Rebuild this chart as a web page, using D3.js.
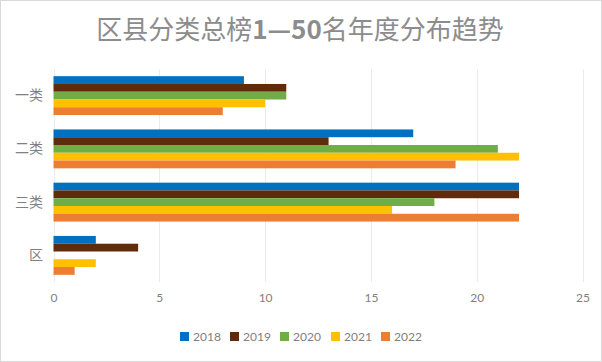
<!DOCTYPE html>
<html>
<head>
<meta charset="utf-8">
<script src="https://cdn.jsdelivr.net/npm/d3@7"></script>
<style>
  body { margin: 0; background: #fff; }
  svg { display: block; }
</style>
</head>
<body>
<svg width="602" height="362"></svg>
<script>
// data
var categories = ["一类", "二类", "三类", "区"];
var years = ["2018", "2019", "2020", "2021", "2022"];
var v2018 = [9, 17, 22, 2];
var v2019 = [11, 13, 22, 4];
var v2020 = [11, 21, 18, 0];
var v2021 = [10, 22, 16, 2];
var v2022 = [8, 19, 22, 1];
var xTicks = [0, 5, 10, 15, 20, 25];
var colors = ["#0070C0", "#5F2B0B", "#70AD47", "#FFC000", "#ED7D31"];

var series = [v2018, v2019, v2020, v2021, v2022];

var svg = d3.select("svg"),
    width = +svg.attr("width"),
    height = +svg.attr("height");

// chart border
svg.append("rect")
    .attr("x", 0.5).attr("y", 0.5)
    .attr("width", width - 1).attr("height", height - 1)
    .attr("fill", "#fff")
    .attr("stroke", "#d9d9d9");

// title (digits are bold in the original)
var title = svg.append("text")
    .attr("x", 300)
    .attr("y", 39)
    .attr("text-anchor", "middle")
    .style("font-family", "'Noto Sans CJK SC', sans-serif")
    .style("font-size", "26px")
    .style("fill", "#8c8c8c");
title.append("tspan").text("区县分类总榜");
title.append("tspan").style("font-weight", "bold").text("1—50");
title.append("tspan").text("名年度分布趋势");

var x = d3.scaleLinear()
    .domain([0, 25])
    .range([53.5, 582.5]);

var y = d3.scaleBand()
    .domain(categories)
    .range([69, 282])
    .paddingInner(0.27)
    .paddingOuter(0.135);

var ySub = d3.scaleBand()
    .domain(years)
    .range([0, y.bandwidth()]);

// gridlines
svg.append("g")
    .selectAll("line")
    .data(xTicks)
    .enter()
    .append("line")
    .attr("x1", function (d) { return Math.round(x(d)) + 0.5; })
    .attr("x2", function (d) { return Math.round(x(d)) + 0.5; })
    .attr("y1", 69)
    .attr("y2", 282)
    .style("stroke", "#ebebeb")
    .style("stroke-width", 1);

// bars
var groups = svg.append("g")
    .selectAll("g")
    .data(categories)
    .enter()
    .append("g")
    .attr("transform", function (d) { return "translate(0," + y(d) + ")"; });

groups.selectAll("rect")
    .data(function (d, i) {
        return years.map(function (yr, j) { return {year: yr, value: series[j][i], k: j}; });
    })
    .enter()
    .append("rect")
    .attr("x", x(0))
    .attr("y", function (d) { return ySub(d.year); })
    .attr("width", function (d) { return x(d.value) - x(0); })
    .attr("height", ySub.bandwidth())
    .attr("fill", function (d) { return colors[d.k]; });

// x axis labels
var xAxis = svg.append("g")
    .attr("transform", "translate(0,282)")
    .call(d3.axisBottom(x).tickValues(xTicks).tickSize(0).tickPadding(11));
xAxis.select(".domain").remove();
xAxis.selectAll("text")
    .style("font-family", "Lato, 'Open Sans', sans-serif")
    .style("font-size", "12px")
    .style("fill", "#808080");

// y axis labels
var yAxis = svg.append("g")
    .attr("transform", "translate(53,0)")
    .call(d3.axisLeft(y).tickSize(0).tickPadding(10));
yAxis.select(".domain").remove();
yAxis.selectAll("text")
    .style("font-family", "'Noto Sans CJK SC', sans-serif")
    .style("font-size", "14px")
    .style("fill", "#808080");

// legend
var legendX = [180, 230, 280, 331, 381];
var legend = svg.append("g")
    .selectAll("g")
    .data(years)
    .enter()
    .append("g")
    .attr("transform", function (d, i) { return "translate(" + legendX[i] + ",332)"; });

legend.append("rect")
    .attr("width", 9)
    .attr("height", 9)
    .attr("fill", function (d, i) { return colors[i]; });

legend.append("text")
    .attr("x", 13)
    .attr("y", 9)
    .style("font-family", "Lato, 'Open Sans', sans-serif")
    .style("font-size", "12px")
    .style("fill", "#808080")
    .text(function (d) { return d; });
</script>
</body>
</html>
